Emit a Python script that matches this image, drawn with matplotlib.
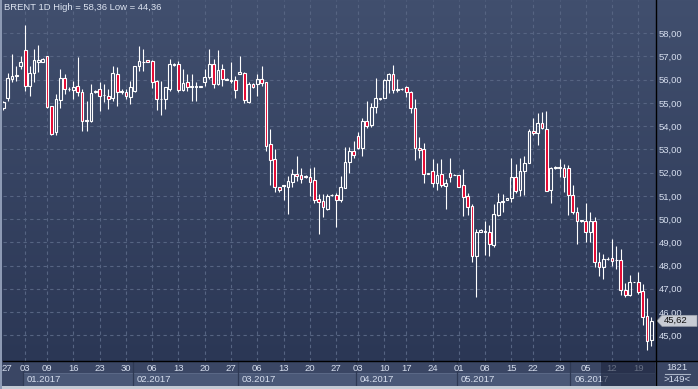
import matplotlib
matplotlib.use("Agg")
import matplotlib.pyplot as plt
import numpy as np
from matplotlib.patches import Rectangle, Polygon
from matplotlib.lines import Line2D
from matplotlib.colors import LinearSegmentedColormap
import matplotlib.transforms as mtrans

plt.rcParams['font.family'] = ['Liberation Sans', 'DejaVu Sans']

# ---------------- data (BRENT daily candles) ----------------
opens = [54.80, 55.20, 56.03, 56.15, 56.60, 57.29, 55.71, 56.29, 56.78, 56.77,
         57.00, 54.86, 53.74, 55.14, 56.06, 55.60, 55.55, 55.74, 55.46, 54.20,
         54.24, 55.46, 55.60, 55.33, 55.31, 55.20, 56.24, 55.49, 55.46, 55.24,
         55.51, 56.60, 56.76, 56.84, 56.81, 55.96, 55.16, 55.17, 55.60, 56.62,
         56.67,
         55.56, 55.91, 55.69, 55.70, 55.70, 55.90, 56.13, 56.69, 55.80, 56.47,
         56.00, 55.96, 55.97, 56.26, 56.30, 55.06, 55.80, 55.83, 56.01, 55.90,
         53.23, 52.59, 51.37, 51.43, 51.40, 51.59, 51.94, 51.90, 51.80, 51.83,
         51.69, 50.87, 50.77, 50.44, 51.03, 51.04, 50.80, 51.34, 52.44, 52.91,
         53.56,
         53.07, 54.20, 54.04, 54.83, 55.17, 55.21, 55.97, 56.26, 55.55, 55.60,
         55.69, 55.47, 54.79, 53.07, 53.00, 51.95, 52.07, 51.54, 51.93, 51.41,
         52.00, 51.88, 51.89, 51.46, 51.00, 50.57, 48.39, 49.44, 49.45, 49.43,
         48.90, 50.19, 50.75, 50.83, 50.89, 51.79, 51.26, 52.07, 52.43, 53.81,
         53.71, 54.14, 53.89, 51.26, 52.20, 52.20,
         52.21, 52.21, 51.04, 50.31, 49.92, 49.90, 49.43, 49.93, 48.14, 47.93,
         48.28, 48.31, 48.22, 48.23, 46.96, 46.71, 47.28, 47.29, 46.89, 45.83,
         44.79]

closes = [55.05, 56.06, 56.17, 56.20, 56.74, 55.71, 56.29, 56.84, 56.84, 56.89,
          54.84, 53.67, 55.17, 56.06, 55.60, 55.62, 55.70, 55.46, 54.20, 54.25,
          55.43, 55.53, 55.31, 55.35, 55.17, 56.29, 55.46, 55.50, 55.29, 55.67,
          56.57, 56.81, 56.78, 56.77, 55.89, 55.17, 55.18, 55.67, 56.67, 56.69,
          55.57,
          55.87, 55.70, 55.71, 55.72, 55.73, 56.13, 56.66, 55.83, 56.41, 56.04,
          56.04, 55.98, 55.56, 56.33, 55.13, 55.80, 55.70, 56.01, 55.87, 53.16,
          52.56, 51.37, 51.26, 51.45, 51.66, 51.94, 51.84, 51.73, 51.87, 51.61,
          50.83, 50.73, 50.51, 51.01, 51.04, 50.80, 51.37, 52.47, 52.91, 52.77,
          53.06,
          54.21, 54.00, 54.83, 55.19, 55.21, 56.00, 56.26, 55.54, 55.62, 55.61,
          55.46, 54.79, 53.07, 52.97, 51.93, 51.99, 51.57, 51.89, 51.46, 51.57,
          51.83, 51.90, 51.39, 50.97, 50.50, 48.39, 49.46, 49.54, 49.47, 48.93,
          50.21, 50.74, 50.77, 50.90, 51.79, 51.21, 52.07, 52.40, 53.79, 53.71,
          54.14, 53.93, 51.21, 52.21, 52.22, 52.22,
          51.81, 51.04, 50.29, 49.93, 49.94, 49.43, 49.93, 48.14, 47.93, 48.26,
          48.30, 48.21, 48.24, 46.93, 46.71, 47.29, 47.30, 46.86, 45.79, 44.76,
          45.62]

highs = [55.10, 56.30, 57.10, 56.60, 57.03, 58.36, 56.60, 57.34, 57.49, 56.92,
         57.02, 54.88, 55.39, 56.46, 56.24, 55.67, 55.96, 56.96, 55.60, 55.10,
         55.81, 55.56, 55.89, 55.81, 55.60, 56.60, 56.53, 55.60, 55.60, 55.96,
         56.60, 57.46, 57.31, 56.86, 56.83, 55.98, 55.96, 55.69, 56.89, 56.72,
         56.81,
         56.44, 56.23, 56.23, 55.90, 55.74, 56.44, 57.30, 56.87, 57.26, 56.66,
         56.06, 56.77, 56.16, 57.04, 56.32, 55.90, 55.86, 56.23, 56.61, 55.92,
         53.87, 53.01, 51.39, 51.46, 51.87, 52.16, 52.70, 52.20, 51.89, 52.19,
         52.26, 51.09, 51.09, 51.09, 51.10, 51.13, 51.87, 53.09, 53.09, 53.37,
         53.76,
         54.36, 55.07, 55.00, 56.07, 55.22, 56.03, 56.27, 56.64, 56.03, 55.66,
         55.74, 55.53, 55.17, 53.54, 53.29, 51.99, 52.57, 52.40, 52.57, 51.71,
         52.61, 51.96, 51.91, 52.14, 51.14, 50.64, 49.57, 49.57, 49.90, 49.74,
         50.64, 51.14, 51.07, 50.90, 52.61, 52.36, 52.64, 52.71, 53.86, 54.36,
         54.57, 54.60, 54.67, 52.26, 52.28, 52.60,
         52.36, 52.31, 51.46, 50.50, 49.98, 50.71, 50.29, 50.11, 48.57, 48.50,
         48.36, 49.14, 48.86, 48.69, 47.26, 47.60, 47.31, 47.74, 47.21, 46.60,
         45.79]

lows = [54.71, 55.10, 55.90, 55.96, 56.46, 55.53, 55.31, 55.89, 56.31, 56.74,
        54.80, 53.60, 53.60, 54.77, 55.39, 55.53, 55.17, 55.31, 53.77, 53.77,
        54.17, 55.44, 54.67, 55.06, 54.74, 55.10, 54.86, 55.38, 55.17, 54.96,
        55.49, 56.39, 56.39, 56.75, 55.63, 54.71, 54.46, 54.74, 55.53, 56.58,
        55.48,
        55.51, 55.51, 55.10, 55.07, 55.68, 55.73, 56.04, 55.63, 55.77, 55.73,
        55.97, 55.87, 55.20, 56.24, 54.99, 54.99, 55.64, 55.30, 55.73, 52.94,
        51.47, 51.16, 51.16, 50.84, 50.23, 51.37, 51.66, 51.56, 51.78, 51.01,
        50.70, 49.37, 50.10, 50.37, 50.98, 49.66, 50.73, 51.33, 51.99, 52.63,
        53.01,
        52.71, 53.93, 53.96, 54.57, 55.14, 55.19, 55.43, 55.43, 55.46, 55.55,
        55.26, 54.57, 52.53, 52.64, 51.54, 51.95, 51.36, 51.24, 51.36, 50.43,
        51.60, 51.88, 51.36, 50.14, 50.17, 48.14, 46.64, 49.43, 48.46, 48.43,
        48.81, 50.14, 50.29, 50.82, 50.74, 51.14, 51.00, 51.03, 52.40, 53.61,
        53.19, 53.86, 51.19, 50.69, 52.14, 51.81,
        51.17, 50.19, 50.21, 48.93, 49.88, 49.03, 49.00, 47.93, 47.57, 47.43,
        48.22, 48.00, 47.86, 46.74, 46.66, 46.69, 47.27, 46.76, 45.43, 44.36,
        44.54]

day_tick_pos = [0.8, 5, 10, 16, 22, 28, 34, 40, 46, 52, 58, 64, 70, 76,
                81, 87, 92, 98, 104, 110, 116, 121, 127, 133, 139, 145]
day_tick_labels = ["27", "03", "09", "16", "23", "30", "06", "13", "20", "27",
                   "06", "13", "20", "27", "03", "10", "17", "24", "01", "08",
                   "15", "22", "29", "05", "12", "19"]
month_starts = [4.5, 29.5, 53.5, 80.5, 103.5, 129.5]
month_labels = ["01.2017", "02.2017", "03.2017", "04.2017", "05.2017", "06.2017"]
price_ticks = [45, 46, 47, 48, 49, 50, 51, 52, 53, 54, 55, 56, 57, 58]
total_bars_label = "1821"
hidden_from = 136.4   # start of the shaded part of the time axis

# ---------------- figure ----------------
W, H = 698, 389
fig = plt.figure(figsize=(W / 100, H / 100), dpi=100)
fig.patch.set_facecolor('#3a4664')


def px(x0, y0, x1, y1):
    return [x0 / W, 1 - y1 / H, (x1 - x0) / W, (y1 - y0) / H]


TXT = '#d6deee'
FS = 6.8
AXBG = '#3a4664'

bg = fig.add_axes([0, 0, 1, 1], zorder=0)
bg.set_axis_off()
grad = np.linspace(0, 1, 256).reshape(-1, 1)
cmap = LinearSegmentedColormap.from_list('g', ['#414f6e', '#2b3755'])
bg.imshow(grad, cmap=cmap, aspect='auto', extent=[0, W, 361, 0], interpolation='bilinear')
bg.set_xlim(0, W)
bg.set_ylim(H, 0)

n = len(closes)
x = np.arange(n)
o = np.array(opens)
c = np.array(closes)
hi = np.array(highs)
lo = np.array(lows)
top = np.maximum(o, c)
bot = np.minimum(o, c)
hgt = np.maximum(top - bot, 0.002)
up = c >= o

ax = fig.add_axes(px(3, 0, 655, 361), zorder=1)
ax.patch.set_alpha(0)
ax.set_xlim(-0.07, 148.8)
ax.set_ylim(43.89, 59.43)
for s in ax.spines.values():
    s.set_visible(False)

ax.set_yticks(price_ticks)
ax.set_yticklabels([f"{v:.2f}".replace('.', ',') for v in price_ticks])
ax.yaxis.tick_right()
ax.tick_params(axis='y', length=0, pad=3, labelsize=FS, labelcolor=TXT)
ax.set_xticks(day_tick_pos[1:])
ax.tick_params(axis='x', length=0, labelbottom=False)
ax.grid(True, color='#566482', linestyle=(0, (3, 3)), linewidth=0.8)
ax.set_axisbelow(True)

lw = 0.8
ax.vlines(x, top, hi, color='white', linewidth=lw, zorder=3)
ax.vlines(x, lo, bot, color='white', linewidth=lw, zorder=3)
ax.bar(x[up], hgt[up], bottom=bot[up], width=0.62, facecolor='none',
       edgecolor='white', linewidth=lw, zorder=4)
ax.bar(x[~up], hgt[~up], bottom=bot[~up], width=0.62, facecolor='#e4002b',
       edgecolor='white', linewidth=lw, zorder=4)

# current price tag
last = closes[-1]
bt = mtrans.blended_transform_factory(ax.transAxes, ax.transData)
fx = lambda p: (p - 3) / 652
hh = 5.5 / 23.23
tag = Polygon([[fx(657), last], [fx(662), last + hh], [fx(697), last + hh],
               [fx(697), last - hh], [fx(662), last - hh]], closed=True,
              transform=bt, facecolor='#c8ccd4', edgecolor='#a0a6b0', linewidth=0.5,
              clip_on=False, zorder=6)
ax.add_patch(tag)
ax.text(fx(663.5), last, f"{last:.2f}".replace('.', ','), transform=bt, ha='left',
        va='center', fontsize=FS, color='#111111', clip_on=False, zorder=7)

# title
fig.text(4.5 / W, 1 - 8 / H,
         f"BRENT 1D High = {max(highs):.2f} Low = {min(lows):.2f}".replace('.', ','),
         ha='left', va='center', fontsize=FS, color='#dde4f1')

# time axis
bax = fig.add_axes(px(3, 361, 655, 386), zorder=2)
bax.set_xlim(ax.get_xlim())
bax.set_ylim(0, 1)
bax.set_facecolor(AXBG)
bax.set_xticks([])
bax.set_yticks([])
for s in bax.spines.values():
    s.set_visible(False)
bounds = month_starts + [ax.get_xlim()[1] + 1]
for i, lab in enumerate(month_labels):
    bax.add_patch(Rectangle((bounds[i], 0.0), bounds[i + 1] - bounds[i], 0.52,
                            facecolor='#4a5877', edgecolor='#5f6d8c', linewidth=0.6))
    bax.text(bounds[i] + 0.9, 0.25, lab, ha='left', va='center', fontsize=FS, color=TXT)
for b in month_starts:
    bax.axvline(b, color='#2e3954', linewidth=0.9)
for p, lab in zip(day_tick_pos, day_tick_labels):
    bax.text(p, 0.71, lab, ha='center', va='center', fontsize=FS, color=TXT)
bax.add_patch(Rectangle((hidden_from, 0), 20, 1, facecolor='#1c243c', alpha=0.6,
                        edgecolor='none', zorder=10))

# bottom-right info box
fig.add_artist(Rectangle((655 / W, 1 - 386 / H), 43 / W, 25 / H, transform=fig.transFigure,
                         facecolor=AXBG, edgecolor='none', zorder=3))
fig.text(677 / W, 1 - 368 / H, total_bars_label, ha='center', va='center', fontsize=FS,
         color=TXT, zorder=4)
fig.text(677 / W, 1 - 380 / H, f">{n}<", ha='center', va='center', fontsize=FS,
         color=TXT, zorder=4)
fig.add_artist(Line2D([665 / W, 690 / W], [1 - 374 / H] * 2, transform=fig.transFigure,
                      color='#aab4c6', linewidth=0.8, zorder=4))

# frame lines
fig.add_artist(Line2D([655.5 / W] * 2, [0, 1], transform=fig.transFigure,
                      color='black', linewidth=1.0, zorder=5))
fig.add_artist(Line2D([3 / W, 1], [1 - 361 / H] * 2, transform=fig.transFigure,
                      color='black', linewidth=1.0, zorder=5))
fig.add_artist(Rectangle((0, 0), 1, 3 / H, transform=fig.transFigure,
                         facecolor='#c3cad4', edgecolor='none', zorder=5))
fig.add_artist(Rectangle((0, 0), 2.2 / W, 1, transform=fig.transFigure,
                         facecolor='#8d9ab4', edgecolor='none', zorder=5))

fig.savefig('out.png', dpi=100, facecolor=fig.get_facecolor())
